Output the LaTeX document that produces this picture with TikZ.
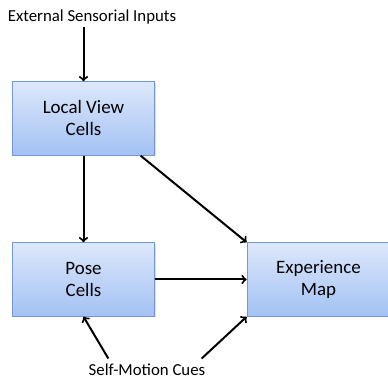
\documentclass[tikz,border=0pt]{standalone}
\usepackage{fontspec}
\setmainfont{Carlito}
\usepackage{tikz}
\usepackage{xcolor}
\usetikzlibrary{positioning, shadows}

\definecolor{celltop}{HTML}{DDE8FB}
\definecolor{cellbottom}{HTML}{A3C1F4}
\definecolor{celledge}{HTML}{7397D0}

\tikzset{
    cell/.style={rectangle, draw=celledge, line width=0.8pt,
        top color=celltop, bottom color=cellbottom,
        minimum width=107pt, minimum height=55pt, align=center,
        font=\fontsize{14.2}{16.5}\selectfont,
        drop shadow={shadow xshift=1pt, shadow yshift=-1pt, opacity=0.25}},
    cue/.style={font=\fontsize{12.6}{14}\selectfont, inner sep=2pt},
    flow/.style={->, >=to, line width=1.5pt}
}

\begin{document}
\begin{tikzpicture}[x=0.75pt, y=0.75pt, node distance=120.75pt and 176.25pt, on grid]
        \useasboundingbox (0,0) rectangle (388,381);

        \node[cell] (lvc) at (83.5,262.5) {Local View\\Cells};
        \node[cell] (pose) [below=of lvc] {Pose\\Cells};
        \node[cell] (exp) [right=of pose] {Experience\\Map};

        \node[cue] (ext) at (92,364) {External Sensorial Inputs};
        \node[cue] (motion) at (147,11) {Self-Motion Cues};

        \path[flow]
        (ext.south -| lvc.north) edge (lvc.north)
        (lvc) edge (pose)
        ([xshift=-11pt]lvc.south east) edge (exp.north west)
        (pose.east) edge (exp.west)
        ([xshift=-29pt, yshift=2pt]motion.north) edge (pose.south)
        ([xshift=41pt, yshift=2pt]motion.north) edge (exp.south west);
    \end{tikzpicture}
\end{document}
